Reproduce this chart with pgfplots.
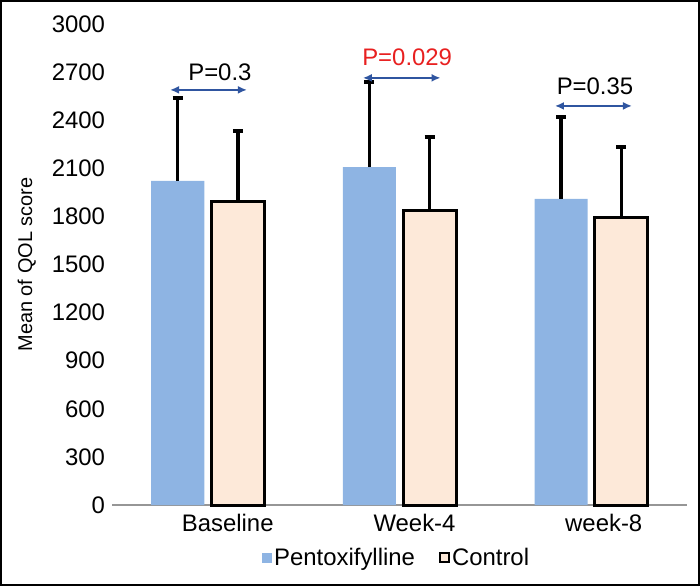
\documentclass[border=0pt]{standalone}
\usepackage{fontspec}
\setmainfont{Liberation Sans}
\usepackage{pgfplots}
\pgfplotsset{compat=1.18}
\usetikzlibrary{arrows.meta}

\definecolor{pentblue}{RGB}{142,180,227}
\definecolor{ctrlpeach}{RGB}{253,233,217}
\definecolor{arrowblue}{RGB}{47,85,160}
\definecolor{pred}{RGB}{232,32,32}
\definecolor{axisgray}{RGB}{150,150,150}

\begin{document}
\begin{tikzpicture}
\useasboundingbox (0,0) rectangle (350bp,293bp);
\draw[line width=1.2bp] (0.6bp,0.6bp) rectangle (349.4bp,292.4bp);
\begin{axis}[
    at={(56bp,40.5bp)}, anchor=south west,
    scale only axis,
    width=287.5bp, height=240.5bp,
    xmin=-0.5, xmax=2.5,
    ymin=0, ymax=3000,
    ytick distance=300,
    xtick={0,1,2},
    xticklabels={Baseline,Week-4,week-8},
    axis x line*=bottom,
    axis y line*=left,
    y axis line style={draw=none},
    x axis line style={draw=axisgray, line width=1bp, -},
    major tick length=0pt,
    tick style={draw=none},
    tick label style={font=\fontsize{12}{14}\selectfont},
    xticklabel style={anchor=north west, xshift=-16.5bp, yshift=-1bp},
    /pgf/number format/assume math mode=true,
    /pgf/number format/1000 sep={},
    ylabel={Mean of QOL score},
    ylabel style={font=\fontsize{10}{12}\selectfont},
    every axis y label/.style={at={(axis description cs:-0.148,0.5)}, rotate=90, anchor=center},
    clip=false,
    legend columns=2,
    legend style={draw=none, at={(0.495,-0.11)}, anchor=center,
        font=\fontsize{12}{14}\selectfont, inner sep=0pt,
        nodes={inner sep=1bp},
        /tikz/every even column/.append style={column sep=11bp}},
]
% bars placed at category position -/+ 0.157
\addplot[ybar, bar width=0.277, bar shift=0, fill=pentblue, draw=none,
    legend image code/.code={\fill[pentblue] (0bp,-2.5bp) rectangle (5bp,2.5bp);},
    error bars/.cd, y dir=plus, y explicit,
    error bar style={black, line width=1.7bp},
    error mark options={black, line width=1.7bp, mark size=2.5bp, rotate=90}]
coordinates {
    (-0.157,2021) +- (0,518)
    (0.843,2108) +- (0,531)
    (1.843,1909) +- (0,511)
};
\addlegendentry{Pentoxifylline}
\addplot[ybar, bar width=0.277, bar shift=0, fill=ctrlpeach, draw=black, line width=1.5bp,
    legend image code/.code={\draw[fill=ctrlpeach, draw=black, line width=1bp] (0.5bp,-2bp) rectangle (5bp,2.5bp);},
    error bars/.cd, y dir=plus, y explicit,
    error bar style={black, line width=1.7bp},
    error mark options={black, line width=1.7bp, mark size=2.5bp, rotate=90}]
coordinates {
    (0.157,1896) +- (0,437)
    (1.157,1834) +- (0,462)
    (2.157,1790) +- (0,443)
};
\addlegendentry{Control}

\draw[{Latex[length=4.5bp,width=4bp]}-{Latex[length=4.5bp,width=4bp]}, arrowblue, line width=1bp]
    (axis cs:-0.197,2589) -- (axis cs:0.204,2589);
\node[font=\fontsize{12}{14}\selectfont] at (axis cs:0.063,2700) {P=0.3};
\draw[{Latex[length=4.5bp,width=4bp]}-{Latex[length=4.5bp,width=4bp]}, arrowblue, line width=1bp]
    (axis cs:0.809,2664) -- (axis cs:1.214,2664);
\node[font=\fontsize{12}{14}\selectfont, text=pred] at (axis cs:1.04,2790) {P=0.029};
\draw[{Latex[length=4.5bp,width=4bp]}-{Latex[length=4.5bp,width=4bp]}, arrowblue, line width=1bp]
    (axis cs:1.811,2489) -- (axis cs:2.213,2489);
\node[font=\fontsize{12}{14}\selectfont] at (axis cs:2.02,2614) {P=0.35};
\end{axis}
\end{tikzpicture}
\end{document}
